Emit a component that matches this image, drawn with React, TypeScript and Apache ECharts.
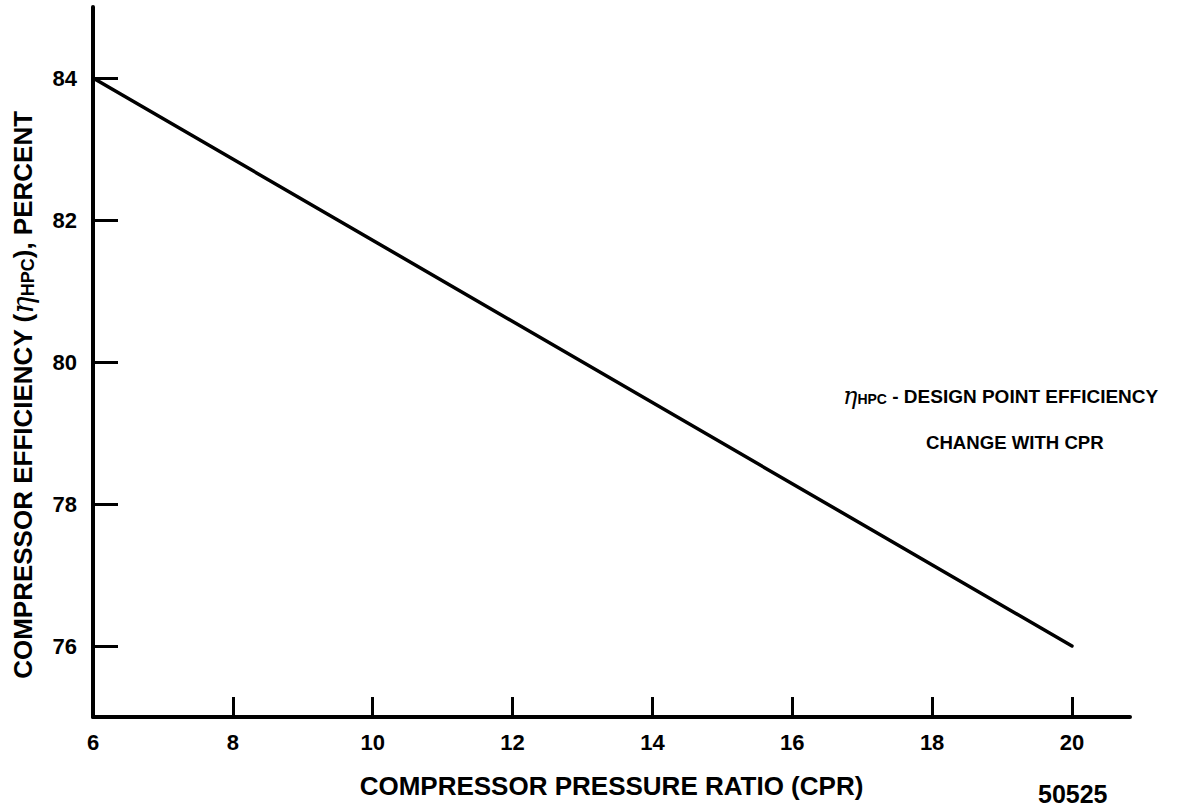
import React, { useEffect, useRef } from "react";
import * as echarts from "echarts";

const cprValues = [6, 20];
const efficiencyValues = [84, 76];
const xTickValues = [6, 8, 10, 12, 14, 16, 18, 20];
const yTickValues = [76, 78, 80, 82, 84];
const xAxisTitle = "COMPRESSOR PRESSURE RATIO (CPR)";
const yAxisTitleParts = ["COMPRESSOR EFFICIENCY (", "η", "HPC", "), PERCENT"];
const noteLine1 = ["η", "HPC", " - DESIGN POINT EFFICIENCY"];
const noteLine2 = "CHANGE WITH CPR";
const figureNumber = "50525";

const FONT = "'Liberation Sans', Arial, Helvetica, sans-serif";

export default function App() {
  const ref = useRef<HTMLDivElement>(null);
  useEffect(() => {
    if (!ref.current) return;
    const chart = echarts.init(ref.current, null, { renderer: "svg" });
    const lineData = cprValues.map((x, i) => [x, efficiencyValues[i]]);
    chart.setOption({
      animation: false,
      backgroundColor: "#ffffff",
      grid: { left: 93, right: 58, top: 7, bottom: 93, containLabel: false },
      xAxis: {
        type: "value",
        min: 6,
        max: 20.83,
        interval: 2,
        name: xAxisTitle,
        nameLocation: "middle",
        nameGap: 56,
        nameTextStyle: { color: "#000", fontSize: 26, fontWeight: "bold", fontFamily: FONT },
        axisLine: { show: true, onZero: false, lineStyle: { color: "#000", width: 4, cap: "round" } },
        axisTick: { show: true, inside: true, length: 20, customValues: xTickValues, lineStyle: { color: "#000", width: 3 } },
        axisLabel: { show: true, customValues: xTickValues, margin: 14, color: "#000", fontSize: 22, fontWeight: "bold", fontFamily: FONT },
        splitLine: { show: false },
      },
      yAxis: {
        type: "value",
        min: 75,
        max: 85,
        interval: 1,
        axisLine: { show: true, onZero: false, lineStyle: { color: "#000", width: 4, cap: "round" } },
        axisTick: { show: true, inside: true, length: 25, customValues: yTickValues, lineStyle: { color: "#000", width: 3 } },
        axisLabel: { show: true, customValues: yTickValues, margin: 16, color: "#000", fontSize: 22, fontWeight: "bold", fontFamily: FONT },
        splitLine: { show: false },
      },
      series: [
        {
          type: "line",
          data: lineData,
          symbol: "none",
          lineStyle: { color: "#000", width: 3.5, cap: "round" },
        },
      ],
      graphic: [
        {
          type: "text",
          x: 23,
          y: 395,
          rotation: Math.PI / 2,
          style: {
            text: yAxisTitleParts[0] + "{eta|" + yAxisTitleParts[1] + "}{sub|" + yAxisTitleParts[2] + "}" + yAxisTitleParts[3],
            fontSize: 26,
            fontWeight: "bold",
            fontFamily: FONT,
            fill: "#000",
            align: "center",
            verticalAlign: "middle",
            rich: {
              eta: { fontSize: 29, fontStyle: "italic", fontWeight: "normal", fontFamily: "'DejaVu Serif', serif", fill: "#000" },
              sub: { fontSize: 18, fontWeight: "bold", fontFamily: FONT, fill: "#000", padding: [9, 0, 0, 0] },
            },
          },
        },
        {
          type: "text",
          left: 843,
          top: 384,
          style: {
            text: "{eta|" + noteLine1[0] + "}{sub|" + noteLine1[1] + "}{t|" + noteLine1[2] + "}",
            rich: {
              eta: { fontSize: 24, fontStyle: "italic", fontFamily: "'DejaVu Serif', serif", fill: "#000" },
              sub: { fontSize: 14, fontWeight: "bold", fontFamily: FONT, fill: "#000", padding: [6, 0, 0, 0] },
              t: { fontSize: 19, fontWeight: "bold", fontFamily: FONT, fill: "#000" },
            },
          },
        },
        {
          type: "text",
          left: 926,
          top: 433,
          style: { text: noteLine2, fontSize: 18.6, fontWeight: "bold", fontFamily: FONT, fill: "#000" },
        },
        {
          type: "text",
          x: 1038,
          y: 794,
          style: { text: figureNumber, fontSize: 25, lineHeight: 26, fontWeight: "bold", fontFamily: FONT, fill: "#000", align: "left", verticalAlign: "middle" },
        },
      ],
    });
    return () => chart.dispose();
  }, []);
  return <div ref={ref} style={{ position: "fixed", left: 0, top: 0, width: 1188, height: 810 }} />;
}
